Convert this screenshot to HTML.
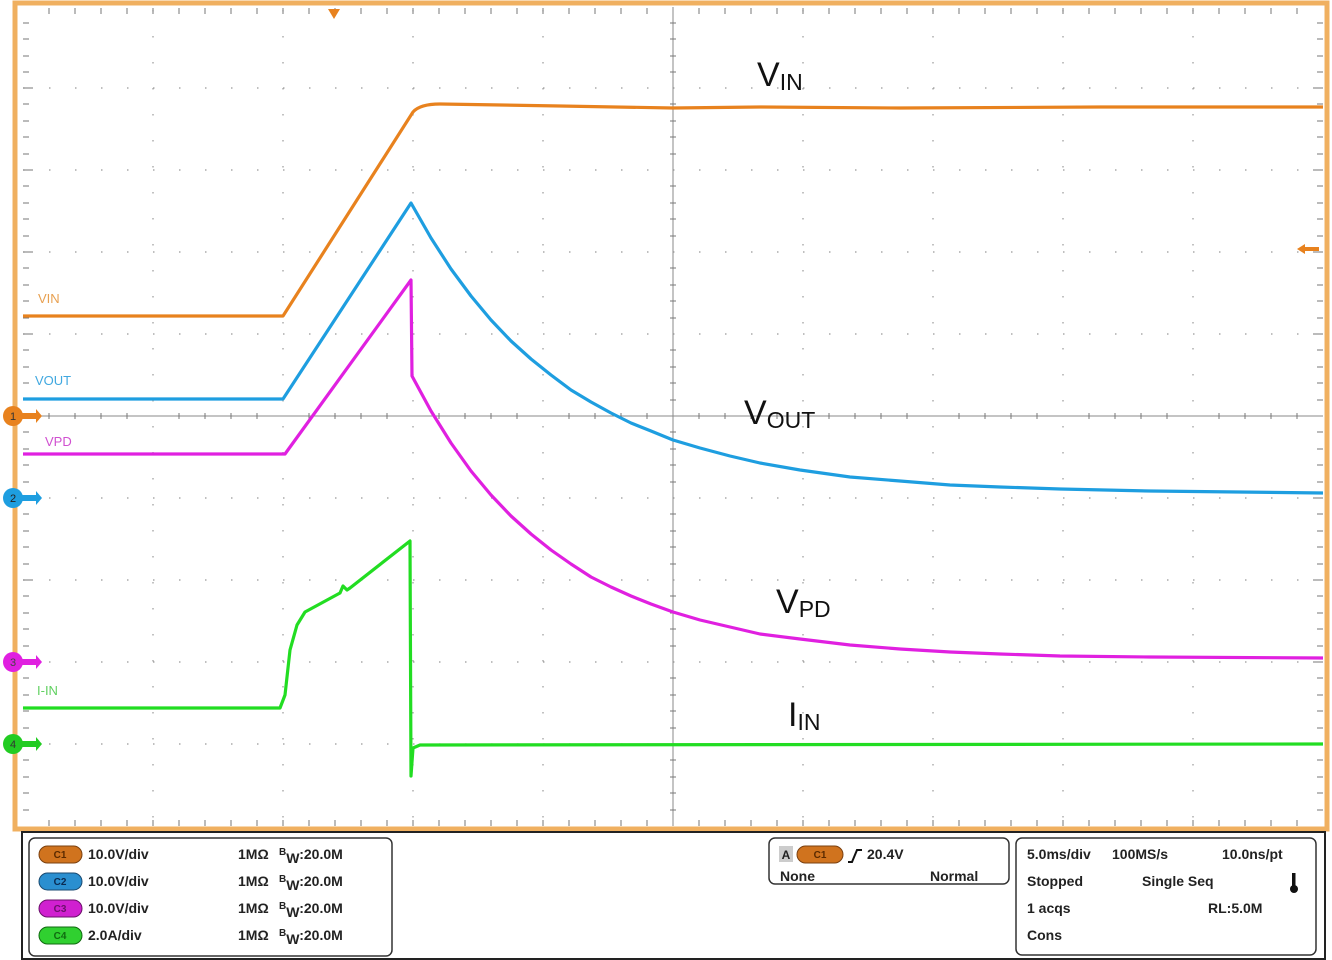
<!DOCTYPE html>
<html><head><meta charset="utf-8"><style>
html,body{margin:0;padding:0;background:#fff;}
svg{display:block;font-family:"Liberation Sans",Arial,sans-serif;}
.b{font-weight:bold;font-size:14px;fill:#222;}
</style></head><body>
<svg width="1332" height="960" viewBox="0 0 1332 960" xmlns="http://www.w3.org/2000/svg">
<rect width="1332" height="960" fill="#fff"/>
<rect x="15" y="3" width="1312" height="826" fill="none" stroke="#f0b060" stroke-width="5"/>
<rect x="22" y="7" width="1301" height="819" fill="#fff"/>
<g stroke="#999" stroke-width="1.2" stroke-dasharray="1.5 24.5">
<line x1="153" y1="10" x2="153" y2="826"/><line x1="283" y1="10" x2="283" y2="826"/><line x1="413" y1="10" x2="413" y2="826"/><line x1="543" y1="10" x2="543" y2="826"/><line x1="803" y1="10" x2="803" y2="826"/><line x1="933" y1="10" x2="933" y2="826"/><line x1="1063" y1="10" x2="1063" y2="826"/><line x1="1193" y1="10" x2="1193" y2="826"/>
<line x1="23" y1="88" x2="1323" y2="88"/><line x1="23" y1="170" x2="1323" y2="170"/><line x1="23" y1="252" x2="1323" y2="252"/><line x1="23" y1="334" x2="1323" y2="334"/><line x1="23" y1="498" x2="1323" y2="498"/><line x1="23" y1="580" x2="1323" y2="580"/><line x1="23" y1="662" x2="1323" y2="662"/><line x1="23" y1="744" x2="1323" y2="744"/>
</g>
<g stroke="#888" stroke-width="1">
<line x1="673" y1="7" x2="673" y2="826"/><line x1="23" y1="416" x2="1323" y2="416"/>
</g>
<g stroke="#777" stroke-width="1">
<path d="M49 413v6M75 413v6M101 413v6M127 413v6M179 413v6M205 413v6M231 413v6M257 413v6M309 413v6M335 413v6M361 413v6M387 413v6M439 413v6M465 413v6M491 413v6M517 413v6M569 413v6M595 413v6M621 413v6M647 413v6M699 413v6M725 413v6M751 413v6M777 413v6M829 413v6M855 413v6M881 413v6M907 413v6M959 413v6M985 413v6M1011 413v6M1037 413v6M1089 413v6M1115 413v6M1141 413v6M1167 413v6M1219 413v6M1245 413v6M1271 413v6M1297 413v6"/>
<path d="M670 23h6M670 39h6M670 56h6M670 72h6M670 104h6M670 121h6M670 137h6M670 154h6M670 186h6M670 203h6M670 219h6M670 236h6M670 268h6M670 285h6M670 301h6M670 318h6M670 350h6M670 367h6M670 383h6M670 400h6M670 432h6M670 449h6M670 465h6M670 482h6M670 514h6M670 531h6M670 547h6M670 564h6M670 596h6M670 613h6M670 629h6M670 646h6M670 678h6M670 695h6M670 711h6M670 728h6M670 760h6M670 777h6M670 793h6M670 810h6"/>
<path d="M49 8v6M75 8v6M101 8v6M127 8v6M153 8v6M179 8v6M205 8v6M231 8v6M257 8v6M283 8v6M309 8v6M335 8v6M361 8v6M387 8v6M413 8v6M439 8v6M465 8v6M491 8v6M517 8v6M543 8v6M569 8v6M595 8v6M621 8v6M647 8v6M699 8v6M725 8v6M751 8v6M777 8v6M803 8v6M829 8v6M855 8v6M881 8v6M907 8v6M933 8v6M959 8v6M985 8v6M1011 8v6M1037 8v6M1063 8v6M1089 8v6M1115 8v6M1141 8v6M1167 8v6M1193 8v6M1219 8v6M1245 8v6M1271 8v6M1297 8v6"/>
<path d="M49 820v6M75 820v6M101 820v6M127 820v6M153 820v6M179 820v6M205 820v6M231 820v6M257 820v6M283 820v6M309 820v6M335 820v6M361 820v6M387 820v6M413 820v6M439 820v6M465 820v6M491 820v6M517 820v6M543 820v6M569 820v6M595 820v6M621 820v6M647 820v6M699 820v6M725 820v6M751 820v6M777 820v6M803 820v6M829 820v6M855 820v6M881 820v6M907 820v6M933 820v6M959 820v6M985 820v6M1011 820v6M1037 820v6M1063 820v6M1089 820v6M1115 820v6M1141 820v6M1167 820v6M1193 820v6M1219 820v6M1245 820v6M1271 820v6M1297 820v6"/>
<path d="M23 23h6M23 39h6M23 56h6M23 72h6M23 88h10M23 104h6M23 121h6M23 137h6M23 154h6M23 170h10M23 186h6M23 203h6M23 219h6M23 236h6M23 252h10M23 268h6M23 285h6M23 301h6M23 318h6M23 334h10M23 350h6M23 367h6M23 383h6M23 400h6M23 432h6M23 449h6M23 465h6M23 482h6M23 498h10M23 514h6M23 531h6M23 547h6M23 564h6M23 580h10M23 596h6M23 613h6M23 629h6M23 646h6M23 662h10M23 678h6M23 695h6M23 711h6M23 728h6M23 744h10M23 760h6M23 777h6M23 793h6M23 810h6"/>
<path d="M1317 23h6M1317 39h6M1317 56h6M1317 72h6M1313 88h10M1317 104h6M1317 121h6M1317 137h6M1317 154h6M1313 170h10M1317 186h6M1317 203h6M1317 219h6M1317 236h6M1313 252h10M1317 268h6M1317 285h6M1317 301h6M1317 318h6M1313 334h10M1317 350h6M1317 367h6M1317 383h6M1317 400h6M1317 432h6M1317 449h6M1317 465h6M1317 482h6M1313 498h10M1317 514h6M1317 531h6M1317 547h6M1317 564h6M1313 580h10M1317 596h6M1317 613h6M1317 629h6M1317 646h6M1313 662h10M1317 678h6M1317 695h6M1317 711h6M1317 728h6M1313 744h10M1317 760h6M1317 777h6M1317 793h6M1317 810h6"/>
</g>
<path d="M328 9h12l-6 10z" fill="#e8821e"/>
<path d="M1297 249l8-5v3h14v4h-14v3z" fill="#e8821e"/>
<g fill="none" stroke-width="3.2" stroke-linejoin="round">
<path stroke="#e8821e" d="M23 316L283 316L413 112Q420 104 440 104L560 106L673 108L760 107L900 108L1100 107L1323 107"/>
<path stroke="#1e9ee0" d="M23 399L283 399L411 203 L431 238 L451 269 L471 296 L491 320 L511 341 L531 359 L551 375 L571 390 L591 402 L611 413 L631 423 L651 431 L673 440 L700 448 L730 456 L760 463 L800 470 L850 477 L900 481 L950 485 L1000 487 L1060 489 L1150 491 L1323 493"/>
<path stroke="#e020e0" d="M23 454L285 454L411 280L412 376 L431 411 L451 443 L471 471 L491 495 L511 516 L531 534 L551 550 L571 564 L591 577 L611 587 L631 596 L651 604 L673 612 L700 620 L730 627 L760 634 L800 639 L850 645 L900 649 L950 652 L1000 654 L1060 656 L1150 657 L1323 658"/>
<path stroke="#22dd22" d="M23 708L280 708L285 695L290 650L297 625L305 612L340 593L343 586L347 590L350 588L410 541L411 776L413 748L420 745L1323 744"/>
</g>
<g font-size="11" text-anchor="middle">
<path d="M20 413h16v-4l6 7-6 7v-4h-16z" fill="#e8821e"/><circle cx="13" cy="416" r="10" fill="#e8821e"/><text x="13" y="420" fill="#333">1</text>
<path d="M20 495h16v-4l6 7-6 7v-4h-16z" fill="#1e9ee0"/><circle cx="13" cy="498" r="10" fill="#1e9ee0"/><text x="13" y="502" fill="#222">2</text>
<path d="M20 659h16v-4l6 7-6 7v-4h-16z" fill="#e020e0"/><circle cx="13" cy="662" r="10" fill="#e020e0"/><text x="13" y="666" fill="#444">3</text>
<path d="M20 741h16v-4l6 7-6 7v-4h-16z" fill="#22cc22"/><circle cx="13" cy="744" r="10" fill="#22cc22"/><text x="13" y="748" fill="#333">4</text>
</g>
<g font-size="13">
<text x="38" y="303" fill="#e8a050">VIN</text>
<text x="35" y="385" fill="#40a8e0">VOUT</text>
<text x="45" y="446" fill="#d050d0">VPD</text>
<text x="37" y="695" fill="#60d060">I-IN</text>
</g>
<g font-size="34" fill="#111">
<text x="757" y="86">V<tspan font-size="23" dy="4">IN</tspan></text>
<text x="744" y="424">V<tspan font-size="23" dy="4">OUT</tspan></text>
<text x="776" y="613">V<tspan font-size="23" dy="4">PD</tspan></text>
<text x="788" y="726">I<tspan font-size="23" dy="4">IN</tspan></text>
</g>
<rect x="22" y="832" width="1303" height="127" fill="#fff" stroke="#222" stroke-width="2"/>
<rect x="29" y="838" width="363" height="118" rx="6" fill="none" stroke="#333" stroke-width="1.5"/>
<rect x="769" y="838" width="240" height="46" rx="6" fill="none" stroke="#333" stroke-width="1.5"/>
<rect x="1016" y="838" width="300" height="117" rx="6" fill="none" stroke="#333" stroke-width="1.5"/>
<g font-size="10" text-anchor="middle" font-weight="bold">
<rect x="39" y="846" width="43" height="17" rx="8.5" fill="#d0731e" stroke="#7a4010"/><text x="60" y="858" fill="#5a2a00">C1</text>
<rect x="39" y="873" width="43" height="17" rx="8.5" fill="#2a8fd0" stroke="#1a4a70"/><text x="60" y="885" fill="#0a2a50">C2</text>
<rect x="39" y="900" width="43" height="17" rx="8.5" fill="#d020d0" stroke="#6a106a"/><text x="60" y="912" fill="#6a106a">C3</text>
<rect x="39" y="927" width="43" height="17" rx="8.5" fill="#30d030" stroke="#106a10"/><text x="60" y="939" fill="#106a10">C4</text>
<rect x="779" y="846" width="14" height="16" fill="#ccc"/><text x="786" y="859" fill="#222" font-size="12">A</text>
<rect x="797" y="846" width="46" height="17" rx="8.5" fill="#d0731e" stroke="#7a4010"/><text x="820" y="858" fill="#5a2a00">C1</text>
</g>
<g class="b">
<text x="88" y="859" class="b">10.0V/div</text><text x="238" y="859" class="b">1MΩ</text><text x="279" y="859" class="b"><tspan font-size="10" dy="-4">B</tspan><tspan dy="8">W</tspan><tspan dy="-4">:20.0M</tspan></text>
<text x="88" y="886" class="b">10.0V/div</text><text x="238" y="886" class="b">1MΩ</text><text x="279" y="886" class="b"><tspan font-size="10" dy="-4">B</tspan><tspan dy="8">W</tspan><tspan dy="-4">:20.0M</tspan></text>
<text x="88" y="913" class="b">10.0V/div</text><text x="238" y="913" class="b">1MΩ</text><text x="279" y="913" class="b"><tspan font-size="10" dy="-4">B</tspan><tspan dy="8">W</tspan><tspan dy="-4">:20.0M</tspan></text>
<text x="88" y="940" class="b">2.0A/div</text><text x="238" y="940" class="b">1MΩ</text><text x="279" y="940" class="b"><tspan font-size="10" dy="-4">B</tspan><tspan dy="8">W</tspan><tspan dy="-4">:20.0M</tspan></text>
<text x="867" y="859" class="b">20.4V</text>
<text x="780" y="881" class="b">None</text><text x="930" y="881" class="b">Normal</text>
<text x="1027" y="859" class="b">5.0ms/div</text><text x="1112" y="859" class="b">100MS/s</text><text x="1222" y="859" class="b">10.0ns/pt</text>
<text x="1027" y="886" class="b">Stopped</text><text x="1142" y="886" class="b">Single Seq</text>
<text x="1027" y="913" class="b">1 acqs</text><text x="1208" y="913" class="b">RL:5.0M</text>
<text x="1027" y="940" class="b">Cons</text>
</g>
<path d="M848 862h4l5-12h5" fill="none" stroke="#111" stroke-width="2"/>
<rect x="1292" y="873" width="3.5" height="14" fill="#111"/><circle cx="1294" cy="889" r="4" fill="#111"/>
</svg>
</body></html>
